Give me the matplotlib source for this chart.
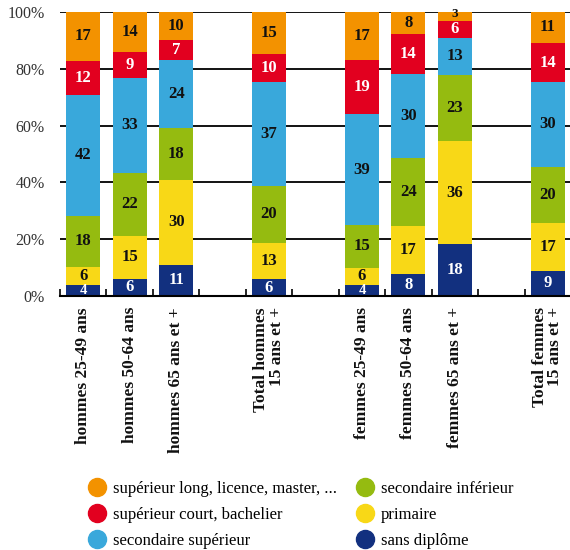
import matplotlib.pyplot as plt
import numpy as np
from matplotlib.lines import Line2D

plt.rcParams['font.family'] = ['Liberation Serif', 'DejaVu Serif']

# categories, empty strings are the gaps between groups
categories = ['hommes 25-49 ans', 'hommes 50-64 ans', 'hommes 65 ans et +', '',
              'Total hommes\n15 ans et +', '',
              'femmes 25-49 ans', 'femmes 50-64 ans', 'femmes 65 ans et +', '',
              'Total femmes\n15 ans et +']

# values bottom to top (None for the empty slots)
sans_diplome = [4, 6, 11, None, 6, None, 4, 8, 18, None, 9]
primaire = [6, 15, 30, None, 13, None, 6, 17, 36, None, 17]
sec_inferieur = [18, 22, 18, None, 20, None, 15, 24, 23, None, 20]
sec_superieur = [42, 33, 24, None, 37, None, 39, 30, 13, None, 30]
sup_court = [12, 9, 7, None, 10, None, 19, 14, 6, None, 14]
sup_long = [17, 14, 10, None, 15, None, 17, 8, 3, None, 11]

series = [sans_diplome, primaire, sec_inferieur, sec_superieur, sup_court, sup_long]
names = ['sans diplôme', 'primaire', 'secondaire inférieur',
         'secondaire supérieur', 'supérieur court, bachelier',
         'supérieur long, licence, master, ...']
colors = ['#12307f', '#f8d817', '#95bb10', '#39a8db', '#e2001f', '#f39200']
txtcol = ['white', '#111111', '#111111', '#111111', 'white', '#111111']

fig = plt.figure(figsize=(5.7, 5.5), dpi=100)
ax = fig.add_axes([60/570, 1-296/550, 511/570, 284/550])

x = np.arange(len(categories))
# rounded labels don't always add to 100, the bars themselves fill to 100%
totals = [sum(s[i] for s in series) if series[0][i] is not None else 0
          for i in range(len(categories))]
bottom = np.zeros(len(categories))
for vals, col, tc in zip(series, colors, txtcol):
    for i, v in enumerate(vals):
        if v is None:
            continue
        h = v * 100 / totals[i]
        ax.bar(x[i], h, bottom=bottom[i], width=0.73, color=col, zorder=3)
        # tiny segments get a smaller label
        fs, dy = 12, 0
        if v <= 4:
            fs = 10.5
        if v <= 3:
            fs, dy = 9.5, 0.9
        ax.text(x[i], bottom[i]+h/2+dy, str(v), ha='center', va='center',
                color=tc, fontsize=fs, fontweight='bold', zorder=4)
        bottom[i] += h

ax.set_xlim(-0.5, len(categories)-0.5)
ax.set_ylim(0, 100)
ax.set_yticks([0, 20, 40, 60, 80, 100])
ax.set_yticklabels(['0%', '20%', '40%', '60%', '80%', '100%'],
                   fontsize=11.5, color='#333333')
ax.yaxis.grid(True, color='black', lw=1.3, zorder=0)
ax.tick_params(axis='y', length=0, pad=11)

# labels at bar centres, tick marks between slots
ax.set_xticks(x)
ax.set_xticklabels(categories, rotation=90, fontsize=12.5, fontweight='bold',
                   multialignment='right', color='#111111', linespacing=0.95)
ax.tick_params(axis='x', which='major', length=0, pad=8)
ax.set_xticks(np.arange(-0.5, len(categories)), minor=True)
ax.tick_params(axis='x', which='minor', length=5, width=1.2, direction='in')

for s in ['top', 'right', 'left']:
    ax.spines[s].set_visible(False)
ax.spines['bottom'].set_linewidth(1.5)
ax.spines['bottom'].set_zorder(5)

order = [5, 4, 3, 2, 1, 0]
handles = [Line2D([], [], marker='o', ls='', markersize=13,
                  markerfacecolor=colors[k], markeredgecolor=colors[k]) for k in order]
fig.legend(handles, [names[k] for k in order], ncol=2, loc='lower left',
           bbox_to_anchor=(72/570, -0.025), frameon=False, fontsize=12,
           handletextpad=0.35, columnspacing=1.1, labelspacing=0.6,
           handlelength=1.2)

plt.savefig('out.png', dpi=100)
